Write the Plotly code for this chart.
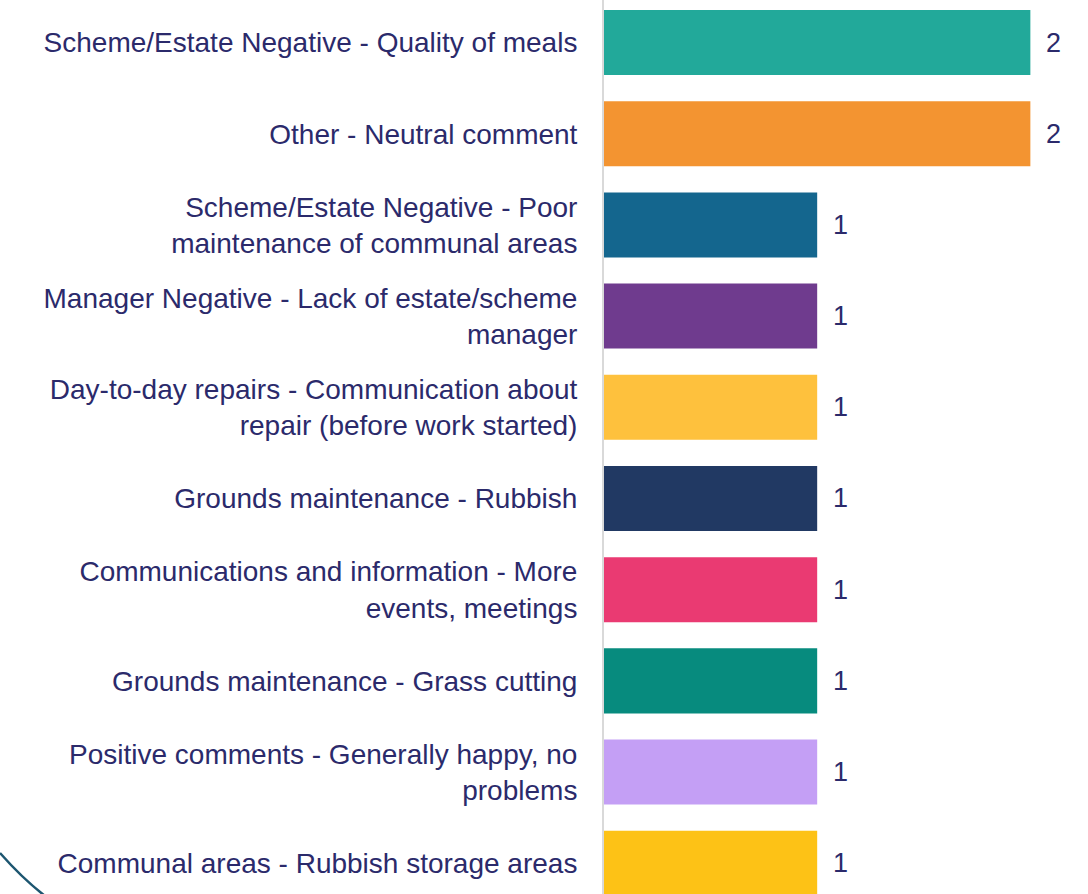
import plotly.graph_objects as go

categories = [
    "Scheme/Estate Negative - Quality of meals",
    "Other - Neutral comment",
    "Scheme/Estate Negative - Poor<br>maintenance of communal areas",
    "Manager Negative - Lack of estate/scheme<br>manager",
    "Day-to-day repairs - Communication about<br>repair (before work started)",
    "Grounds maintenance - Rubbish",
    "Communications and information - More<br>events, meetings",
    "Grounds maintenance - Grass cutting",
    "Positive comments - Generally happy, no<br>problems",
    "Communal areas - Rubbish storage areas",
]
values = [2, 2, 1, 1, 1, 1, 1, 1, 1, 1]
colors = ["#22A99A", "#F39431", "#14668E", "#6F3B8E", "#FEC13D",
          "#213963", "#EA3A72", "#078B7E", "#C49FF5", "#FDC216"]

TEXT = "#2b2a6b"
FONT = "Liberation Sans"

fig = go.Figure(go.Bar(
    x=values, y=categories, orientation="h",
    marker=dict(color=colors, line=dict(width=0)),
    width=0.713,
    hoverinfo="skip",
))

for v, c in zip(values, categories):
    fig.add_annotation(x=v, y=c, text=str(v), showarrow=False,
                       xanchor="left", xshift=14,
                       font=dict(size=27, color=TEXT, family=FONT))

fig.add_shape(type="path", xref="paper", yref="paper",
              path="M -1.2878,0.0459 Q -1.2409,0.0179 -1.1919,-0.0022",
              line=dict(color="#1d5670", width=2.5))

fig.update_layout(
    width=1088, height=894,
    margin=dict(l=604, r=15, t=0, b=0),
    paper_bgcolor="white", plot_bgcolor="white",
    showlegend=False,
    font=dict(family=FONT, size=28, color=TEXT),
    xaxis=dict(range=[0, 2.2], showgrid=False, zeroline=False,
               showticklabels=False, showline=False, fixedrange=True),
    yaxis=dict(type="category", range=[9.337, -0.466], showgrid=False,
               zeroline=False, showline=True, linecolor="#d9d9d9", linewidth=2,
               ticks="", ticklabelstandoff=19,
               tickfont=dict(size=28, color=TEXT, family=FONT)),
)

fig.write_html("out.html")
